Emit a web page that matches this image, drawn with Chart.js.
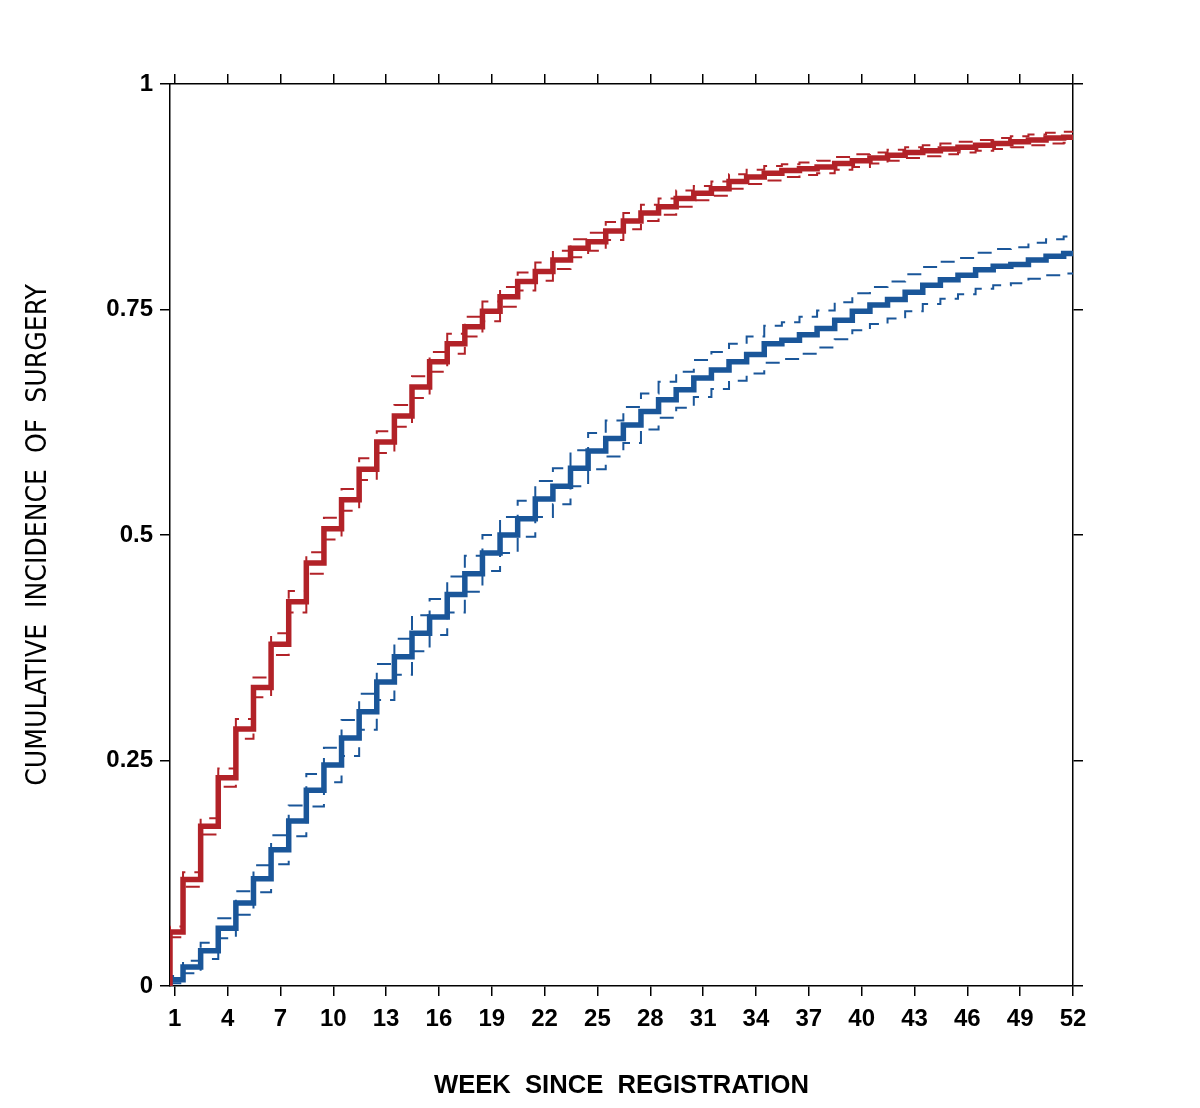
<!DOCTYPE html>
<html><head><meta charset="utf-8">
<script src="https://cdn.jsdelivr.net/npm/chart.js@4.4.0/dist/chart.umd.min.js"></script>
<style>html,body{margin:0;padding:0;background:#fff;}canvas{display:block;}</style>
</head><body>
<canvas id="c" width="1200" height="1108"></canvas>
<script>
const weeks = [1,2,3,4,5,6,7,8,9,10,11,12,13,14,15,16,17,18,19,20,21,22,23,24,25,26,27,28,29,30,31,32,33,34,35,36,37,38,39,40,41,42,43,44,45,46,47,48,49,50,51,52];
const xTickLabels = [1,4,7,10,13,16,19,22,25,28,31,34,37,40,43,46,49,52];
const yTickValues = [0,0.25,0.5,0.75,1];
const yTickLabels = ['0','0.25','0.5','0.75','1'];

const redMain  = [0.060,0.118,0.177,0.231,0.285,0.331,0.379,0.426,0.469,0.507,0.539,0.573,0.603,0.632,0.664,0.692,0.712,0.731,0.748,0.764,0.781,0.792,0.805,0.818,0.825,0.837,0.848,0.857,0.864,0.873,0.879,0.884,0.892,0.897,0.901,0.904,0.906,0.908,0.912,0.915,0.918,0.921,0.924,0.926,0.928,0.930,0.932,0.934,0.936,0.938,0.940,0.941];
const redUpper = [0.066,0.126,0.186,0.241,0.296,0.342,0.391,0.438,0.481,0.519,0.551,0.585,0.615,0.644,0.676,0.703,0.723,0.742,0.759,0.775,0.791,0.802,0.815,0.828,0.835,0.847,0.857,0.866,0.873,0.882,0.887,0.892,0.900,0.905,0.909,0.911,0.913,0.915,0.919,0.922,0.924,0.927,0.930,0.932,0.934,0.936,0.938,0.940,0.942,0.944,0.946,0.947];
const redLower = [0.054,0.110,0.168,0.221,0.274,0.320,0.367,0.414,0.457,0.495,0.527,0.561,0.591,0.620,0.652,0.681,0.701,0.720,0.737,0.753,0.771,0.782,0.795,0.808,0.815,0.827,0.839,0.848,0.855,0.864,0.871,0.876,0.884,0.889,0.893,0.897,0.899,0.901,0.905,0.908,0.912,0.915,0.918,0.920,0.922,0.924,0.926,0.928,0.930,0.932,0.934,0.935];

const blueMain  = [0.007,0.021,0.039,0.064,0.092,0.119,0.151,0.183,0.217,0.245,0.275,0.304,0.337,0.365,0.391,0.409,0.434,0.457,0.480,0.500,0.518,0.540,0.554,0.574,0.593,0.607,0.622,0.637,0.650,0.661,0.674,0.683,0.692,0.700,0.712,0.716,0.722,0.729,0.738,0.748,0.755,0.761,0.769,0.777,0.783,0.788,0.794,0.798,0.800,0.805,0.809,0.812];
const blueUpper = [0.011,0.028,0.048,0.075,0.105,0.134,0.167,0.200,0.235,0.264,0.295,0.324,0.357,0.385,0.411,0.429,0.454,0.477,0.500,0.520,0.538,0.560,0.574,0.594,0.613,0.627,0.642,0.657,0.670,0.681,0.694,0.703,0.712,0.720,0.732,0.736,0.742,0.749,0.758,0.768,0.775,0.781,0.789,0.797,0.803,0.807,0.813,0.817,0.819,0.824,0.828,0.831];
const blueLower = [0.003,0.014,0.030,0.053,0.079,0.104,0.135,0.166,0.199,0.226,0.255,0.284,0.317,0.345,0.371,0.389,0.414,0.437,0.460,0.480,0.498,0.520,0.534,0.554,0.573,0.587,0.602,0.617,0.630,0.641,0.653,0.662,0.671,0.679,0.691,0.695,0.701,0.708,0.717,0.727,0.734,0.740,0.748,0.756,0.762,0.767,0.773,0.777,0.779,0.784,0.788,0.790];

const X_MIN = 0.73, X_MAX = 52, STEP_SHIFT = 0.53;
const RED = '#B22228', BLUE = '#1A5699';

function stepPoints(vals) {
  const pts = [{x: X_MIN, y: 0}, {x: X_MIN, y: vals[0]}];
  for (let i = 1; i < vals.length; i++) pts.push({x: weeks[i] - STEP_SHIFT, y: vals[i]});
  pts.push({x: X_MAX, y: vals[vals.length - 1]});
  return pts;
}
function mainSet(vals, color) {
  return {data: stepPoints(vals), borderColor: color, borderWidth: 5.5, stepped: 'before', pointRadius: 0, order: 0, borderCapStyle: 'butt', borderJoinStyle: 'miter', fill: false};
}
function ciSet(vals, color) {
  return {data: stepPoints(vals), borderColor: color, borderWidth: 2, borderDash: [14, 9], stepped: 'before', pointRadius: 0, order: 1, borderCapStyle: 'butt', fill: false};
}

const tickFont = {family: "'Liberation Sans', Arial, sans-serif", size: 24, weight: 'bold'};
const gridOpts = {drawOnChartArea: false, drawTicks: true, tickLength: 10, color: '#000', lineWidth: 1.5};
const borderOpts = {display: true, color: '#000', width: 1.5};

new Chart(document.getElementById('c'), {
  type: 'line',
  data: {datasets: [
    mainSet(redMain, RED), mainSet(blueMain, BLUE),
    ciSet(redUpper, RED), ciSet(redLower, RED), ciSet(blueUpper, BLUE), ciSet(blueLower, BLUE)
  ]},
  options: {
    responsive: false, animation: false, devicePixelRatio: 1,
    layout: {padding: 0},
    plugins: {legend: {display: false}, tooltip: {enabled: false}},
    scales: {
      x: {type: 'linear', axis: 'x', position: 'bottom', min: X_MIN, max: X_MAX,
        afterBuildTicks: s => { s.ticks = xTickLabels.map(v => ({value: v})); },
        afterFit: s => { s.height = 122; },
        ticks: {autoSkip: false, maxRotation: 0, color: '#000', font: tickFont, padding: 9, callback: v => String(v)},
        grid: gridOpts, border: borderOpts,
        title: {display: true, text: 'WEEK  SINCE  REGISTRATION', color: '#000', font: {family: "'Liberation Sans', Arial, sans-serif", size: 25.6, weight: 'bold'}, padding: {top: 0, bottom: 7}}
      },
      x2: {type: 'linear', axis: 'x', position: 'top', min: X_MIN, max: X_MAX,
        afterBuildTicks: s => { s.ticks = xTickLabels.map(v => ({value: v})); },
        afterFit: s => { s.height = 84; },
        ticks: {display: false}, grid: gridOpts, border: borderOpts
      },
      y: {type: 'linear', axis: 'y', position: 'left', min: 0, max: 1,
        afterBuildTicks: s => { s.ticks = yTickValues.map(v => ({value: v})); },
        afterFit: s => { s.width = 170; },
        ticks: {color: '#000', font: tickFont, padding: 7, callback: (v, i) => yTickLabels[i]},
        grid: gridOpts, border: borderOpts,
        title: {display: true, text: 'CUMULATIVE  INCIDENCE  OF  SURGERY', color: '#000', font: {family: "'Liberation Sans Narrow', 'DejaVu Sans Condensed', 'Liberation Sans', sans-serif", size: 28, weight: 'normal'}, padding: {top: 22, bottom: 0}}
      },
      y2: {type: 'linear', axis: 'y', position: 'right', min: 0, max: 1,
        afterBuildTicks: s => { s.ticks = yTickValues.map(v => ({value: v})); },
        afterFit: s => { s.width = 127; },
        ticks: {display: false}, grid: gridOpts, border: borderOpts
      }
    }
  }
});
</script>
</body></html>
